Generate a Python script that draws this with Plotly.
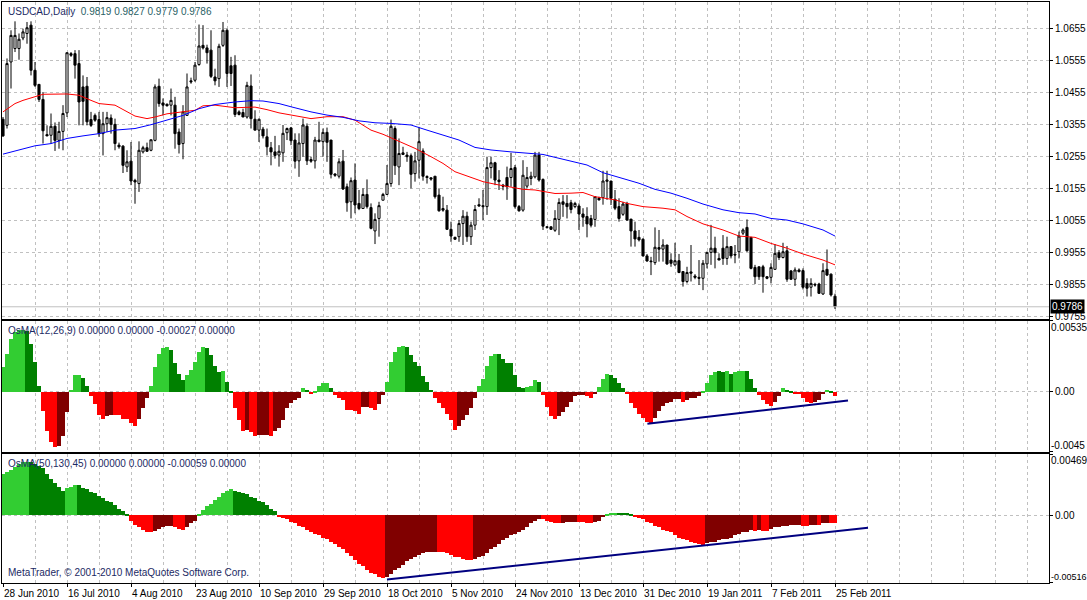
import plotly.graph_objects as go

# USDCAD daily, 28 Jun 2010 - 25 Feb 2011 (MT4 feed with Sunday bars)
date_labels = ["28 Jun 2010", "16 Jul 2010", "4 Aug 2010", "23 Aug 2010", "10 Sep 2010",
               "29 Sep 2010", "18 Oct 2010", "5 Nov 2010", "24 Nov 2010", "13 Dec 2010",
               "31 Dec 2010", "19 Jan 2011", "7 Feb 2011", "25 Feb 2011"]
label_bars = [0, 16, 32, 48, 64, 80, 96, 112, 128, 144, 160, 176, 192, 208]

open_ = [1.0372, 1.0353, 1.0551, 1.0593, 1.0593, 1.0626, 1.0640, 1.0666, 1.0525, 1.0481,
         1.0434, 1.0324, 1.0322, 1.0350, 1.0306, 1.0334, 1.0392, 1.0577, 1.0577, 1.0546,
         1.0473, 1.0475, 1.0371, 1.0384, 1.0371, 1.0327, 1.0358, 1.0376, 1.0356, 1.0291,
         1.0288, 1.0223, 1.0241, 1.0181, 1.0171, 1.0270, 1.0283, 1.0275, 1.0306, 1.0475,
         1.0423, 1.0419, 1.0416, 1.0416, 1.0332, 1.0296, 1.0384, 1.0492, 1.0494, 1.0543,
         1.0603, 1.0595, 1.0588, 1.0504, 1.0499, 1.0603, 1.0650, 1.0539, 1.0541, 1.0395,
         1.0393, 1.0379, 1.0476, 1.0372, 1.0338, 1.0341, 1.0317, 1.0283, 1.0270, 1.0260,
         1.0267, 1.0330, 1.0345, 1.0307, 1.0242, 1.0296, 1.0350, 1.0246, 1.0242, 1.0307,
         1.0302, 1.0331, 1.0307, 1.0201, 1.0194, 1.0241, 1.0161, 1.0114, 1.0182, 1.0109,
         1.0093, 1.0137, 1.0096, 1.0023, 1.0062, 1.0119, 1.0137, 1.0171, 1.0343, 1.0223,
         1.0267, 1.0260, 1.0258, 1.0202, 1.0244, 1.0273, 1.0193, 1.0189, 1.0194, 1.0135,
         1.0093, 1.0088, 1.0028, 1.0003, 1.0005, 1.0046, 1.0069, 1.0005, 1.0041, 1.0105,
         1.0102, 1.0099, 1.0221, 1.0236, 1.0182, 1.0166, 1.0190, 1.0190, 1.0221, 1.0099,
         1.0088, 1.0163, 1.0187, 1.0192, 1.0260, 1.0184, 1.0036, 1.0036, 1.0025, 1.0059,
         1.0114, 1.0109, 1.0111, 1.0099, 1.0101, 1.0076, 1.0068, 1.0062, 1.0059, 1.0125,
         1.0127, 1.0178, 1.0179, 1.0122, 1.0099, 1.0075, 1.0109, 1.0060, 1.0023, 1.0003,
         0.9997, 0.9945, 0.9929, 0.9924, 0.9971, 0.9966, 0.9979, 0.9932, 0.9917, 0.9930,
         0.9896, 0.9865, 0.9895, 0.9882, 0.9878, 0.9875, 0.9920, 0.9956, 0.9969, 0.9937,
         0.9969, 0.9937, 0.9974, 0.9950, 0.9958, 1.0016, 1.0034, 1.0003, 0.9909, 0.9911,
         0.9911, 0.9880, 0.9878, 0.9903, 0.9955, 0.9940, 0.9961, 0.9898, 0.9872, 0.9901,
         0.9899, 0.9859, 0.9847, 0.9856, 0.9857, 0.9826, 0.9903, 0.9888, 0.9819]

high = [1.0379, 1.0562, 1.0650, 1.0678, 1.0640, 1.0655, 1.0676, 1.0678, 1.0551, 1.0481,
        1.0457, 1.0353, 1.0390, 1.0362, 1.0364, 1.0416, 1.0580, 1.0582, 1.0588, 1.0588,
        1.0509, 1.0504, 1.0395, 1.0390, 1.0395, 1.0395, 1.0395, 1.0387, 1.0374, 1.0299,
        1.0291, 1.0275, 1.0301, 1.0186, 1.0303, 1.0289, 1.0299, 1.0308, 1.0481, 1.0499,
        1.0437, 1.0421, 1.0468, 1.0442, 1.0343, 1.0416, 1.0515, 1.0502, 1.0551, 1.0668,
        1.0666, 1.0605, 1.0650, 1.0530, 1.0608, 1.0676, 1.0655, 1.0567, 1.0572, 1.0400,
        1.0405, 1.0489, 1.0512, 1.0400, 1.0374, 1.0348, 1.0343, 1.0301, 1.0320, 1.0291,
        1.0354, 1.0346, 1.0348, 1.0328, 1.0328, 1.0374, 1.0359, 1.0255, 1.0317, 1.0364,
        1.0343, 1.0346, 1.0307, 1.0203, 1.0250, 1.0276, 1.0171, 1.0190, 1.0234, 1.0151,
        1.0156, 1.0184, 1.0109, 1.0078, 1.0114, 1.0142, 1.0229, 1.0371, 1.0350, 1.0312,
        1.0286, 1.0270, 1.0265, 1.0270, 1.0348, 1.0281, 1.0197, 1.0190, 1.0194, 1.0156,
        1.0130, 1.0104, 1.0052, 1.0005, 1.0057, 1.0088, 1.0083, 1.0052, 1.0104, 1.0125,
        1.0151, 1.0255, 1.0255, 1.0239, 1.0213, 1.0170, 1.0224, 1.0267, 1.0229, 1.0104,
        1.0244, 1.0223, 1.0208, 1.0270, 1.0270, 1.0187, 1.0038, 1.0036, 1.0088, 1.0125,
        1.0135, 1.0135, 1.0120, 1.0114, 1.0109, 1.0094, 1.0097, 1.0073, 1.0132, 1.0130,
        1.0211, 1.0211, 1.0179, 1.0151, 1.0125, 1.0114, 1.0114, 1.0060, 1.0052, 1.0026,
        1.0000, 0.9951, 0.9942, 1.0034, 1.0026, 0.9997, 0.9979, 0.9953, 0.9986, 0.9951,
        0.9896, 0.9911, 0.9979, 0.9888, 0.9932, 0.9932, 0.9958, 1.0042, 1.0005, 0.9953,
        1.0010, 1.0005, 0.9976, 0.9979, 1.0021, 1.0031, 1.0059, 1.0003, 0.9917, 0.9911,
        0.9917, 0.9882, 0.9922, 0.9982, 0.9963, 0.9986, 0.9976, 0.9901, 0.9909, 0.9906,
        0.9906, 0.9875, 0.9875, 0.9861, 0.9861, 0.9922, 0.9965, 0.9890, 0.9827]

low = [1.0317, 1.0343, 1.0468, 1.0582, 1.0558, 1.0619, 1.0608, 1.0509, 1.0473, 1.0426,
       1.0296, 1.0320, 1.0296, 1.0273, 1.0280, 1.0275, 1.0379, 1.0567, 1.0499, 1.0353,
       1.0353, 1.0353, 1.0348, 1.0364, 1.0317, 1.0259, 1.0332, 1.0327, 1.0275, 1.0280,
       1.0204, 1.0207, 1.0166, 1.0108, 1.0145, 1.0265, 1.0270, 1.0272, 1.0303, 1.0411,
       1.0384, 1.0412, 1.0384, 1.0280, 1.0265, 1.0247, 1.0384, 1.0483, 1.0489, 1.0539,
       1.0590, 1.0546, 1.0501, 1.0478, 1.0473, 1.0598, 1.0473, 1.0476, 1.0379, 1.0384,
       1.0379, 1.0374, 1.0343, 1.0338, 1.0301, 1.0312, 1.0259, 1.0228, 1.0249, 1.0224,
       1.0239, 1.0307, 1.0291, 1.0218, 1.0192, 1.0255, 1.0229, 1.0236, 1.0218, 1.0300,
       1.0255, 1.0239, 1.0187, 1.0192, 1.0187, 1.0151, 1.0083, 1.0062, 1.0078, 1.0088,
       1.0093, 1.0093, 1.0028, 0.9982, 1.0005, 1.0119, 1.0135, 1.0161, 1.0198, 1.0166,
       1.0260, 1.0239, 1.0156, 1.0177, 1.0187, 1.0180, 1.0171, 1.0180, 1.0124, 1.0083,
       1.0083, 1.0026, 0.9989, 0.9995, 0.9989, 0.9979, 0.9989, 0.9979, 1.0026, 1.0099,
       1.0057, 1.0073, 1.0187, 1.0166, 1.0151, 1.0150, 1.0120, 1.0161, 1.0093, 1.0083,
       1.0083, 1.0156, 1.0166, 1.0187, 1.0177, 1.0026, 1.0030, 1.0026, 1.0020, 1.0010,
       1.0067, 1.0062, 1.0078, 1.0094, 1.0026, 1.0036, 1.0003, 1.0034, 1.0036, 1.0118,
       1.0105, 1.0120, 1.0104, 1.0088, 1.0052, 1.0070, 1.0055, 0.9974, 0.9974, 0.9990,
       0.9943, 0.9927, 0.9885, 0.9917, 0.9927, 0.9927, 0.9917, 0.9911, 0.9913, 0.9891,
       0.9849, 0.9859, 0.9865, 0.9872, 0.9854, 0.9838, 0.9906, 0.9917, 0.9906, 0.9932,
       0.9917, 0.9917, 0.9937, 0.9922, 0.9937, 1.0010, 0.9958, 0.9903, 0.9857, 0.9870,
       0.9830, 0.9872, 0.9859, 0.9901, 0.9932, 0.9937, 0.9864, 0.9870, 0.9851, 0.9893,
       0.9840, 0.9818, 0.9818, 0.9849, 0.9826, 0.9823, 0.9882, 0.9818, 0.9779]

close = [1.0320, 1.0546, 1.0634, 1.0634, 1.0622, 1.0645, 1.0658, 1.0525, 1.0478, 1.0434,
         1.0336, 1.0320, 1.0350, 1.0306, 1.0334, 1.0390, 1.0580, 1.0572, 1.0541, 1.0426,
         1.0428, 1.0364, 1.0353, 1.0369, 1.0327, 1.0358, 1.0377, 1.0356, 1.0296, 1.0286,
         1.0228, 1.0239, 1.0179, 1.0176, 1.0275, 1.0283, 1.0272, 1.0308, 1.0473, 1.0421,
         1.0416, 1.0414, 1.0431, 1.0327, 1.0293, 1.0395, 1.0473, 1.0489, 1.0541, 1.0601,
         1.0595, 1.0580, 1.0506, 1.0492, 1.0600, 1.0650, 1.0515, 1.0515, 1.0387, 1.0387,
         1.0379, 1.0478, 1.0374, 1.0338, 1.0372, 1.0320, 1.0286, 1.0270, 1.0259, 1.0272,
         1.0328, 1.0343, 1.0305, 1.0241, 1.0298, 1.0354, 1.0242, 1.0241, 1.0307, 1.0302,
         1.0331, 1.0300, 1.0200, 1.0197, 1.0239, 1.0154, 1.0111, 1.0180, 1.0104, 1.0093,
         1.0137, 1.0099, 1.0031, 1.0059, 1.0102, 1.0137, 1.0171, 1.0350, 1.0227, 1.0265,
         1.0262, 1.0255, 1.0200, 1.0242, 1.0302, 1.0194, 1.0190, 1.0185, 1.0130, 1.0086,
         1.0088, 1.0028, 1.0007, 0.9997, 1.0046, 1.0069, 1.0005, 1.0041, 1.0090, 1.0101,
         1.0099, 1.0221, 1.0236, 1.0182, 1.0177, 1.0163, 1.0161, 1.0218, 1.0099, 1.0086,
         1.0197, 1.0190, 1.0194, 1.0260, 1.0182, 1.0038, 1.0034, 1.0028, 1.0062, 1.0112,
         1.0106, 1.0099, 1.0090, 1.0109, 1.0076, 1.0066, 1.0045, 1.0041, 1.0130, 1.0120,
         1.0179, 1.0182, 1.0125, 1.0094, 1.0062, 1.0107, 1.0057, 1.0023, 0.9998, 0.9995,
         0.9945, 0.9929, 0.9927, 0.9972, 0.9966, 0.9979, 0.9920, 0.9922, 0.9930, 0.9893,
         0.9865, 0.9893, 0.9891, 0.9878, 0.9875, 0.9922, 0.9956, 0.9969, 0.9955, 0.9932,
         0.9937, 0.9974, 0.9945, 0.9948, 1.0007, 1.0026, 0.9961, 0.9906, 0.9880, 0.9880,
         0.9880, 0.9875, 0.9909, 0.9953, 0.9940, 0.9958, 0.9872, 0.9872, 0.9901, 0.9896,
         0.9847, 0.9844, 0.9859, 0.9854, 0.9828, 0.9899, 0.9885, 0.9823, 0.9786]

# moving averages at sample bars
ma_red_bars = [0, 3, 5, 8, 10, 16, 19, 22, 24, 28, 31, 33, 36, 38, 41, 45, 48, 50, 53, 58,
               63, 66, 69, 73, 77, 81, 85, 88, 92, 95, 97, 100, 103, 107, 110, 113, 117, 120,
               123, 127, 130, 133, 138, 142, 145, 148, 153, 156, 160, 165, 168, 171, 175, 180,
               184, 188, 192, 196, 200, 205, 208]
ma_red = [1.0395, 1.0421, 1.0431, 1.0442, 1.0450, 1.0451, 1.0447, 1.0431, 1.0421, 1.0416,
          1.0395, 1.0382, 1.0374, 1.0379, 1.0389, 1.0395, 1.0400, 1.0414, 1.0416, 1.0408,
          1.0410, 1.0402, 1.0392, 1.0383, 1.0374, 1.0380, 1.0380, 1.0369, 1.0338, 1.0325,
          1.0314, 1.0296, 1.0281, 1.0255, 1.0234, 1.0208, 1.0190, 1.0177, 1.0169, 1.0161,
          1.0153, 1.0151, 1.0140, 1.0141, 1.0143, 1.0130, 1.0120, 1.0109, 1.0099, 1.0094,
          1.0089, 1.0068, 1.0045, 1.0026, 1.0007, 1.0003, 0.9984, 0.9969, 0.9951, 0.9932,
          0.9917]

ma_blue_bars = [0, 4, 8, 12, 16, 20, 24, 28, 33, 37, 41, 45, 49, 53, 58, 62, 65, 69, 72, 77,
                81, 85, 89, 93, 97, 102, 106, 110, 114, 118, 122, 127, 131, 135, 138, 142, 146,
                150, 155, 159, 163, 167, 171, 175, 180, 184, 188, 192, 196, 200, 205, 208]
ma_blue = [1.0263, 1.0275, 1.0289, 1.0296, 1.0312, 1.0320, 1.0327, 1.0338, 1.0343, 1.0355,
           1.0369, 1.0384, 1.0405, 1.0418, 1.0426, 1.0430, 1.0429, 1.0421, 1.0411, 1.0395,
           1.0385, 1.0378, 1.0367, 1.0361, 1.0359, 1.0354, 1.0338, 1.0322, 1.0307, 1.0284,
           1.0276, 1.0270, 1.0265, 1.0262, 1.0253, 1.0240, 1.0229, 1.0205, 1.0187, 1.0172,
           1.0153, 1.0141, 1.0125, 1.0107, 1.0089, 1.0080, 1.0076, 1.0062, 1.0057, 1.0045,
           1.0026, 1.0007]

# OsMA(12,26,9)
osma_fast = [0.0019, 0.0029, 0.0040, 0.0045, 0.0047, 0.0047, 0.0046, 0.0036, 0.0023, 0.0005,
             -0.0014, -0.0029, -0.0037, -0.0041, -0.0040, -0.0033, -0.0015, 0.0002, 0.0013, 0.0013,
             0.0011, 0.0005, -0.0003, -0.0009, -0.0017, -0.0020, -0.0018, -0.0017, -0.0017, -0.0017,
             -0.0020, -0.0020, -0.0023, -0.0025, -0.0020, -0.0012, -0.0004, 0.0005, 0.0019, 0.0029,
             0.0033, 0.0034, 0.0032, 0.0022, 0.0014, 0.0009, 0.0013, 0.0017, 0.0023, 0.0030,
             0.0034, 0.0033, 0.0028, 0.0020, 0.0015, 0.0016, 0.0008, 0.0001, -0.0012, -0.0021,
             -0.0029, -0.0028, -0.0030, -0.0033, -0.0032, -0.0032, -0.0032, -0.0033, -0.0029, -0.0027,
             -0.0021, -0.0012, -0.0008, -0.0006, -0.0004, 0.0003, 0.0002, -0.0001, 0.0001, 0.0005,
             0.0007, 0.0007, 0.0003, -0.0002, -0.0004, -0.0006, -0.0013, -0.0013, -0.0014, -0.0016,
             -0.0011, -0.0011, -0.0012, -0.0013, -0.0009, -0.0002, 0.0008, 0.0023, 0.0030, 0.0034,
             0.0035, 0.0034, 0.0028, 0.0023, 0.0020, 0.0012, 0.0008, 0.0002, -0.0004, -0.0008,
             -0.0012, -0.0016, -0.0021, -0.0028, -0.0025, -0.0021, -0.0017, -0.0012, -0.0004, 0.0005,
             0.0010, 0.0020, 0.0027, 0.0029, 0.0029, 0.0025, 0.0022, 0.0022, 0.0013, 0.0004,
             0.0003, 0.0004, 0.0005, 0.0009, 0.0008, -0.0002, -0.0011, -0.0018, -0.0020, -0.0018,
             -0.0015, -0.0011, -0.0007, -0.0003, -0.0002, -0.0002, -0.0003, -0.0004, -0.0001, 0.0004,
             0.0010, 0.0014, 0.0013, 0.0011, 0.0007, 0.0003, -0.0001, -0.0008, -0.0012, -0.0016,
             -0.0019, -0.0022, -0.0024, -0.0019, -0.0014, -0.0010, -0.0008, -0.0007, -0.0005, -0.0005,
             -0.0007, -0.0006, -0.0004, -0.0004, -0.0003, 0.0001, 0.0007, 0.0013, 0.0015, 0.0016,
             0.0015, 0.0016, 0.0014, 0.0015, 0.0016, 0.0016, 0.0016, 0.0010, 0.0003, -0.0002,
             -0.0006, -0.0009, -0.0010, -0.0007, -0.0003, 0.0003, 0.0002, 0.0001, -0.0001, -0.0001,
             -0.0004, -0.0007, -0.0008, -0.0007, -0.0006, -0.0001, 0.0002, 0.0001, -0.0003]
# L = up green, D = down green, R = down red, M = up red
osma_fast_col = ("LLLLLLDDDD" "RRRRMMMLLL" "DDRRRRMMRR" "RRRRMMMLLL" "LLDDDDLLLL"
                 "LDDDDLDDRR" "RMRRMMMRMM" "MMMMMLDRLL" "LLDRRRRRRR" "MMRRMMLLLL"
                 "LDDDDDDDRR" "RRRRMMMMML" "LLLLDDDDDD" "DLLLDRRRRM" "MMMMMMRRML"
                 "LLDDDDRRRR" "RRRMMMMMMM" "RMMMMLLLLD" "DLDLLLDDDR" "RRRMMLDDRR"
                 "RRRMMMLDR")

# OsMA(50,130,45)
osma_slow = [0.0032, 0.0033, 0.0035, 0.0037, 0.0039, 0.0041, 0.0041, 0.0041, 0.0039, 0.0038,
             0.0036, 0.0032, 0.0028, 0.0025, 0.0022, 0.0019, 0.0021, 0.0022, 0.0023, 0.0023,
             0.0021, 0.0020, 0.0018, 0.0017, 0.0015, 0.0013, 0.0011, 0.0010, 0.0008, 0.0005,
             0.0003, 0.0001, -0.0004, -0.0007, -0.0009, -0.0011, -0.0013, -0.0013, -0.0012, -0.0010,
             -0.0009, -0.0008, -0.0008, -0.0009, -0.0010, -0.0011, -0.0009, -0.0006, -0.0004, 0.0001,
             0.0004, 0.0007, 0.0009, 0.0012, 0.0014, 0.0017, 0.0019, 0.0020, 0.0019, 0.0018,
             0.0017, 0.0016, 0.0014, 0.0013, 0.0011, 0.0010, 0.0008, 0.0005, 0.0003, -0.0001,
             -0.0002, -0.0003, -0.0005, -0.0006, -0.0008, -0.0009, -0.0011, -0.0013, -0.0014, -0.0015,
             -0.0017, -0.0018, -0.0020, -0.0022, -0.0024, -0.0026, -0.0029, -0.0031, -0.0034, -0.0037,
             -0.0039, -0.0042, -0.0044, -0.0045, -0.0047, -0.0048, -0.0047, -0.0045, -0.0042, -0.0040,
             -0.0038, -0.0035, -0.0033, -0.0032, -0.0030, -0.0029, -0.0028, -0.0028, -0.0028, -0.0028,
             -0.0028, -0.0029, -0.0030, -0.0032, -0.0032, -0.0033, -0.0034, -0.0034, -0.0033, -0.0032,
             -0.0031, -0.0029, -0.0026, -0.0024, -0.0022, -0.0019, -0.0017, -0.0015, -0.0014, -0.0013,
             -0.0011, -0.0009, -0.0006, -0.0004, -0.0003, -0.0003, -0.0004, -0.0005, -0.0006, -0.0006,
             -0.0006, -0.0005, -0.0005, -0.0005, -0.0005, -0.0005, -0.0006, -0.0006, -0.0005, -0.0004,
             -0.0001, 0.0001, 0.0002, 0.0002, 0.0002, 0.0002, 0.0002, 0.0001, -0.0001, -0.0002,
             -0.0003, -0.0005, -0.0006, -0.0008, -0.0009, -0.0011, -0.0012, -0.0013, -0.0015, -0.0017,
             -0.0018, -0.0019, -0.0020, -0.0021, -0.0022, -0.0023, -0.0021, -0.0020, -0.0020, -0.0019,
             -0.0018, -0.0018, -0.0017, -0.0015, -0.0014, -0.0013, -0.0013, -0.0011, -0.0012, -0.0011,
             -0.0012, -0.0012, -0.0010, -0.0009, -0.0009, -0.0008, -0.0008, -0.0007, -0.0007, -0.0007,
             -0.0008, -0.0008, -0.0007, -0.0007, -0.0007, -0.0006, -0.0006, -0.0006, -0.0006]
osma_slow_col = ("LLLLLLLDDD" "DDDDDDLLLD" "DDDDDDDDDD" "DDRRRRRRMM" "MMMRRRMMML"
                 "LLLLLLLLDD" "DDDDDDDDDR" "RRRRRRRRRR" "RRRRRRRRRR" "RRRRRRMMMM"
                 "MMMMMMMMMR" "RRRRRRRRMM" "MMMMMMMMMM" "MMMMMRRRRR" "MMMMRRRRMM"
                 "MLLLDDDDRR" "RRRRRRRRRR" "RRRRRRMMMM" "MMMMMMMMRM" "RRMMMMMMMM"
                 "RRMMRMMRR")

# hand-drawn trend lines (bar, value)
trend_fast_bars = [161.1, 211.25]
trend_fast_vals = [-0.0024, -0.00065]
trend_slow_bars = [96, 216.25]
trend_slow_vals = [-0.0049, -0.00094]

price_ticks = [0.9755, 0.9855, 0.9955, 1.0055, 1.0155, 1.0255, 1.0355, 1.0455, 1.0555, 1.0655]

bars = list(range(len(close)))
palette = {"L": "#32cd32", "D": "#008000", "R": "#ff0000", "M": "#800000"}
GRID = "#c0c0c0"
DASH = "3px,3px"
FONT = "Tahoma, Liberation Sans, Arial, sans-serif"
NAVY = "#1c2a64"
TEAL = "#2a5f66"

fig = go.Figure()

fig.add_trace(go.Candlestick(
    x=bars, open=open_, high=high, low=low, close=close,
    increasing=dict(line=dict(color="black", width=1), fillcolor="white"),
    decreasing=dict(line=dict(color="black", width=1), fillcolor="black"),
    whiskerwidth=0, xaxis="x", yaxis="y", hoverinfo="skip"))
fig.add_trace(go.Scatter(x=ma_red_bars, y=ma_red, mode="lines",
                         line=dict(color="#ff0000", width=1), xaxis="x", yaxis="y"))
fig.add_trace(go.Scatter(x=ma_blue_bars, y=ma_blue, mode="lines",
                         line=dict(color="#0000ff", width=1), xaxis="x", yaxis="y"))

fig.add_trace(go.Bar(x=bars, y=osma_fast, width=1,
                     marker=dict(color=[palette[c] for c in osma_fast_col], line=dict(width=0)),
                     xaxis="x2", yaxis="y2"))
fig.add_trace(go.Scatter(x=trend_fast_bars, y=trend_fast_vals, mode="lines",
                         line=dict(color="#000080", width=2), xaxis="x2", yaxis="y2"))

fig.add_trace(go.Bar(x=bars, y=osma_slow, width=1,
                     marker=dict(color=[palette[c] for c in osma_slow_col], line=dict(width=0)),
                     xaxis="x3", yaxis="y3"))
fig.add_trace(go.Scatter(x=trend_slow_bars, y=trend_slow_vals, mode="lines",
                         line=dict(color="#000080", width=2), xaxis="x3", yaxis="y3"))

xcommon = dict(range=[-0.25, 261.5], showline=True, mirror=True, linecolor="black", linewidth=1,
               showgrid=True, gridcolor=GRID, griddash=DASH, gridwidth=1, zeroline=False,
               tickvals=label_bars, ticktext=date_labels, tickangle=0, automargin=False,
               minor=dict(tick0=0, dtick=8, showgrid=True, gridcolor=GRID, griddash=DASH, ticks=""),
               fixedrange=True)
ycommon = dict(side="right", showline=True, mirror=True, linecolor="black", linewidth=1,
               ticks="outside", ticklen=3, tickcolor="black", zeroline=False, automargin=False,
               tickfont=dict(size=10, color="black"), gridcolor=GRID, griddash=DASH, fixedrange=True)

fig.update_layout(
    width=1087, height=600,
    margin=dict(l=2, r=38, t=2, b=17),
    paper_bgcolor="white", plot_bgcolor="white",
    font=dict(family=FONT, size=10, color="black"),
    showlegend=False, hovermode=False, bargap=0, boxgap=0.25,
    xaxis=dict(xcommon, anchor="y", showticklabels=False, ticks="", rangeslider=dict(visible=False)),
    xaxis2=dict(xcommon, anchor="y2", matches="x", showticklabels=False, ticks=""),
    xaxis3=dict(xcommon, anchor="y3", matches="x", ticks="outside", ticklen=3, tickcolor="black",
                ticklabelposition="outside right", ticklabelstandoff=1,
                tickfont=dict(size=10, color="black")),
    yaxis=dict(ycommon, domain=[0.4544, 1.0], range=[0.97478, 1.07384],
               tickvals=price_ticks, tickformat=".4f", showgrid=True),
    yaxis2=dict(ycommon, domain=[0.2260, 0.4518], range=[-0.0045, 0.00535],
                tickvals=[-0.0045, 0, 0.00535], ticktext=["", "0.00", ""], showgrid=True),
    yaxis3=dict(ycommon, domain=[0.0, 0.2220], range=[-0.00516, 0.00469],
                tickvals=[-0.00516, 0, 0.00469], ticktext=["", "0.00", ""], showgrid=True),
)

# current bid line and its label
fig.add_shape(type="line", xref="x domain", x0=0, x1=1, yref="y", y0=close[-1], y1=close[-1],
              line=dict(color=GRID, width=1))
fig.add_annotation(xref="paper", x=1, xanchor="left", xshift=1, yref="y", y=close[-1],
                   text=f"{close[-1]:.4f}", showarrow=False, bgcolor="black", borderpad=1,
                   font=dict(color="white", size=10))

# edge labels of the indicator scales (last one shrunk a little so it fits the canvas)
edge_labels = [("y2 domain", 1, "top", "0.00535", 10), ("y2 domain", 0, "bottom", "-0.0045", 10),
               ("y3 domain", 1, "top", "0.00469", 10), ("y3 domain", 0, "bottom", "-0.00516", 9)]
for yref, yv, anchor, txt, size in edge_labels:
    fig.add_annotation(xref="paper", x=1, xanchor="left", xshift=1, yref=yref, y=yv,
                       yanchor=anchor, text=txt, showarrow=False, borderpad=0,
                       font=dict(size=size, color="black"))

header = (f"<span style='color:{NAVY}'>USDCAD,Daily</span>  "
          f"<span style='color:{TEAL}'>{open_[-1]:.4f} {high[-1]:.4f} {low[-1]:.4f} {close[-1]:.4f}</span>")
fig.add_annotation(xref="paper", x=0, xanchor="left", xshift=4, yref="y domain", y=1, yanchor="top",
                   yshift=-2, text=header, showarrow=False, font=dict(size=10))
fig.add_annotation(xref="paper", x=0, xanchor="left", xshift=4, yref="y2 domain", y=1, yanchor="top",
                   yshift=-2, showarrow=False, font=dict(size=10, color=NAVY),
                   text="OsMA(12,26,9) 0.00000 0.00000 -0.00027 0.00000")
fig.add_annotation(xref="paper", x=0, xanchor="left", xshift=4, yref="y3 domain", y=1, yanchor="top",
                   yshift=-2, showarrow=False, font=dict(size=10, color=NAVY),
                   text="OsMA(50,130,45) 0.00000 0.00000 -0.00059 0.00000")
fig.add_annotation(xref="paper", x=0, xanchor="left", xshift=4, yref="y3 domain", y=0, yanchor="bottom",
                   yshift=3, showarrow=False, font=dict(size=10, color=NAVY),
                   text="MetaTrader, © 2001-2010 MetaQuotes Software Corp.")

fig.write_html("out.html", config=dict(displayModeBar=False),
               post_script="document.body.style.margin='0px';")
